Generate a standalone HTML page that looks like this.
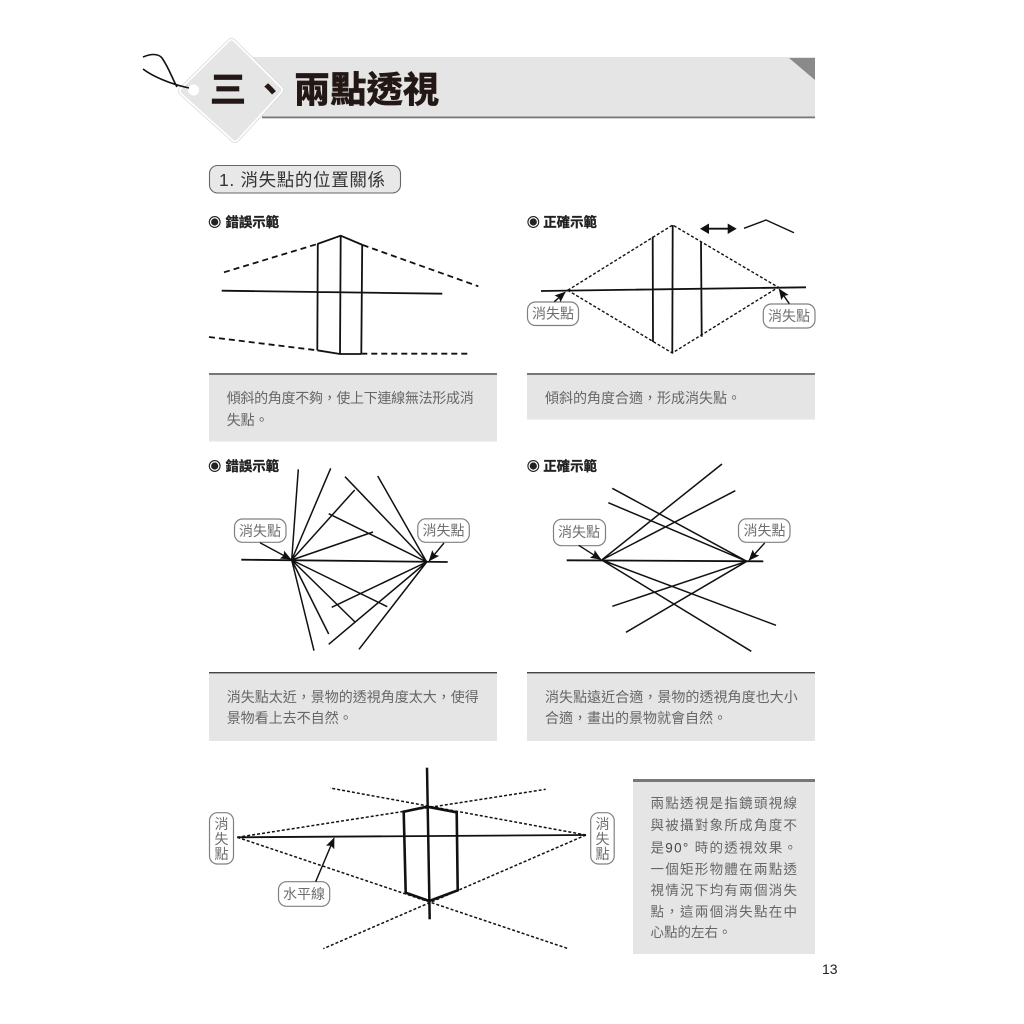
<!DOCTYPE html>
<html lang="zh-Hant">
<head>
<meta charset="utf-8">
<title>三、兩點透視</title>
<style>
html,body{margin:0;padding:0;background:#fff;width:1024px;height:1024px;overflow:hidden}
svg{display:block;filter:blur(.35px)}
text{font-family:"Liberation Sans","Noto Sans CJK TC",sans-serif}
.t{font-size:14px;fill:#666}
.h{font-size:13.4px;font-weight:bold;fill:#222;stroke:#222;stroke-width:.3}
.lb{font-size:14px;fill:#6e6e6e;text-anchor:middle}
.box{fill:#e5e5e5}
.lbl{fill:#fff;stroke:#808080;stroke-width:1.2}
.s{stroke:#111;fill:none;stroke-width:1.8}
.n{stroke:#111;fill:none;stroke-width:1.5}
.d{stroke:#111;fill:none;stroke-width:1.8;stroke-dasharray:6 4}
.p{stroke:#111;fill:none;stroke-width:1.4;stroke-dasharray:3 2}
.a{stroke:#111;fill:none;stroke-width:1.4;marker-end:url(#ah)}
</style>
</head>
<body>
<svg width="1024" height="1024" viewBox="0 0 1024 1024" xmlns="http://www.w3.org/2000/svg">
<defs>
<marker id="ah" markerWidth="11" markerHeight="9" refX="10" refY="4.5" orient="auto" markerUnits="userSpaceOnUse">
<path d="M0 0L11 4.5L0 9L2 4.5Z" fill="#111"/>
</marker>
</defs>

<!-- header banner -->
<rect x="240" y="57" width="575" height="60" fill="#e5e5e5"/>
<rect x="262" y="116.5" width="553" height="1.8" fill="#777"/>
<polygon points="789,58 815,58 815,80" fill="#8a8a8a"/>
<polygon points="231.5,43 279,90 235,138 183,91" fill="#ddd" stroke="#d5d5d5" stroke-width="10" stroke-linejoin="round"/>
<polygon points="231.5,43 279,90 235,138 183,91" fill="#fff" stroke="#fff" stroke-width="8.6" stroke-linejoin="round"/>
<polygon points="231.5,43 279,90 235,138 183,91" fill="#e5e5e5" stroke="#e5e5e5" stroke-width="5" stroke-linejoin="round"/>
<circle cx="193.5" cy="90" r="5.5" fill="#fff"/>
<path d="M143 57C150 54 158 53 162 58C169 68 172 78 177 87M143 69C152 76 170 84 189 88" fill="none" stroke="#111" stroke-width="1.6"/>
<text x="210" y="102" font-size="36" font-weight="bold" fill="#231815" stroke="#231815" stroke-width=".8">三</text>
<text x="252" y="102" font-size="36" font-weight="bold" fill="#231815">、</text>
<text x="294" y="102" font-size="36" font-weight="bold" fill="#231815" stroke="#231815" stroke-width=".8" textLength="145" lengthAdjust="spacing">兩點透視</text>

<!-- section pill -->
<rect x="209.5" y="165.5" width="191" height="27.5" rx="8" fill="#e8e8e8" stroke="#666" stroke-width="1.1"/>
<text x="219" y="186" font-size="17.5" fill="#333" textLength="166" lengthAdjust="spacing">1. 消失點的位置關係</text>

<!-- section headings -->
<g>
<circle cx="214.7" cy="222" r="5.4" fill="none" stroke="#222" stroke-width="1.1"/><circle cx="214.7" cy="222" r="3.6" fill="#222"/>
<text class="h" x="225.5" y="227">錯誤示範</text>
<circle cx="533.3" cy="222" r="5.4" fill="none" stroke="#222" stroke-width="1.1"/><circle cx="533.3" cy="222" r="3.6" fill="#222"/>
<text class="h" x="543.3" y="227">正確示範</text>
<circle cx="214.7" cy="466" r="5.4" fill="none" stroke="#222" stroke-width="1.1"/><circle cx="214.7" cy="466" r="3.6" fill="#222"/>
<text class="h" x="225.5" y="471">錯誤示範</text>
<circle cx="533.3" cy="466" r="5.4" fill="none" stroke="#222" stroke-width="1.1"/><circle cx="533.3" cy="466" r="3.6" fill="#222"/>
<text class="h" x="543.3" y="471">正確示範</text>
</g>

<!-- diagram 1 -->
<g>
<path class="s" d="M317.3 244L340.7 235.7L362.7 245M317.3 350.3L340 354L361.3 354M317.8 244L317.3 350.3M340.7 235.7L340 354M362.2 245L361.3 354M221.7 290.7L442.3 293.7"/>
<path class="d" d="M224 272.3L317.3 244M362.7 245L478.3 286.3M209 337L317.3 350.3M361.3 353.7L470.7 353.7"/>
</g>
<rect class="box" x="209" y="374" width="288" height="67.5"/>
<rect x="209" y="373" width="288" height="2" fill="#777"/>
<text class="t" x="226.7" y="403" textLength="247" lengthAdjust="spacing">傾斜的角度不夠，使上下連線無法形成消</text>
<text class="t" x="226.7" y="425">失點。</text>

<!-- diagram 2 -->
<g>
<path class="p" d="M567.7 290.3L672.7 225L778.3 287.3L672.3 353Z"/>
<path class="s" d="M541 291L806 287.3M672.7 225L672.3 353M652.7 236.7L653 342M701 242.3L701.7 336.7"/>
<path d="M700 228.7L709 223.5V234ZM736.7 228.7L727.7 223.5V234Z" fill="#111"/>
<path d="M705 228.7H732" stroke="#111" stroke-width="1.8"/>
<path d="M744 228.3L766 220L794 232.7" fill="none" stroke="#111" stroke-width="1.4"/>
<rect class="lbl" x="527.5" y="302" width="51" height="23.5" rx="8"/>
<text class="lb" x="553" y="318.5">消失點</text>
<rect class="lbl" x="763.3" y="304" width="51.7" height="24" rx="8"/>
<text class="lb" x="789" y="321">消失點</text>
<path class="a" d="M554.3 301.7L565 292.3"/>
<path class="a" d="M789.3 303.7L779.3 289.3"/>
</g>
<rect class="box" x="527" y="374" width="288" height="45.5"/>
<rect x="527" y="373" width="288" height="2" fill="#777"/>
<text class="t" x="545" y="403">傾斜的角度合適，形成消失點。</text>

<!-- diagram 3 -->
<g>
<path class="n" d="M291.7 560L298.3 469.3M291.7 560L330.7 468.3M291.7 560L354.7 490M291.7 560L373 532M291.7 560L314 650.7M291.7 560L328.7 634M291.7 560L355 622M291.7 560L387.3 606.7M426.7 562L377.7 476M426.7 562L345 476.7M426.7 562L328.7 513.7M426.7 562L331.7 607.3M426.7 562L328.7 644.3M426.7 562L359 649.3"/>
<path class="s" d="M241.3 559.7L447.7 562"/>
<rect class="lbl" x="234.5" y="519" width="51.5" height="23.3" rx="8"/>
<text class="lb" x="260" y="536">消失點</text>
<rect class="lbl" x="417.8" y="518.8" width="51.5" height="23.5" rx="8"/>
<text class="lb" x="443.5" y="535.5">消失點</text>
<path class="a" d="M260 542.7L290.7 559.3"/>
<path class="a" d="M444 543L429.3 560.7"/>
</g>
<rect class="box" x="209" y="673" width="288" height="68"/>
<rect x="209" y="672" width="288" height="1.4" fill="#444"/>
<text class="t" x="226.7" y="702" textLength="252" lengthAdjust="spacing">消失點太近，景物的透視角度太大，使得</text>
<text class="t" x="226.7" y="723">景物看上去不自然。</text>

<!-- diagram 4 -->
<g>
<path class="n" d="M601.7 560L722 464M601.7 560L735.3 490.7M601.7 560L776 625.3M601.7 560L751.3 651.3M746.7 561.3L612.3 488.3M746.7 561.3L608.3 502.7M746.7 561.3L612.3 606.3M746.7 561.3L626 632.3"/>
<path class="s" d="M566.7 560.3L763.3 561.3"/>
<rect class="lbl" x="553.5" y="519.3" width="52" height="26.4" rx="8"/>
<text class="lb" x="579" y="537">消失點</text>
<rect class="lbl" x="738.5" y="518.8" width="51.5" height="23.5" rx="8"/>
<text class="lb" x="764.5" y="535.5">消失點</text>
<path class="a" d="M578.7 545.3L600.7 559.3"/>
<path class="a" d="M764.7 543L749.3 560"/>
</g>
<rect class="box" x="527" y="673" width="288" height="68"/>
<rect x="527" y="672" width="288" height="1.4" fill="#444"/>
<text class="t" x="545" y="702" textLength="252.7" lengthAdjust="spacing">消失點遠近合適，景物的透視角度也大小</text>
<text class="t" x="545" y="723">合適，畫出的景物就會自然。</text>

<!-- diagram 5 -->
<g>
<path class="p" style="stroke-width:1.5" d="M237.3 837.3L545.7 789.3M586 835L330 788M237.3 837.3L568.3 948.7M586 835L323.3 948.7"/>
<path class="s" d="M237.3 837.3L586 835"/>
<path d="M427 767.7L429.7 919.3" stroke="#111" stroke-width="2.5" fill="none"/>
<polygon points="427,806.7 456.7,812.3 457.7,890.3 429.3,901 405.7,892.7 403.7,811.7" fill="none" stroke="#111" stroke-width="2.6"/>
<rect class="lbl" x="209.5" y="812.7" width="24" height="51.3" rx="8"/>
<text class="lb" x="221.5" y="829">消</text><text class="lb" x="221.5" y="844">失</text><text class="lb" x="221.5" y="859">點</text>
<rect class="lbl" x="590.7" y="812.7" width="23.5" height="51.3" rx="8"/>
<text class="lb" x="602.5" y="829">消</text><text class="lb" x="602.5" y="844">失</text><text class="lb" x="602.5" y="859">點</text>
<rect class="lbl" x="278.5" y="881.7" width="51.2" height="24.6" rx="8"/>
<text class="lb" x="304" y="899">水平線</text>
<path class="a" d="M315.7 881.7L334 838.3"/>
</g>

<!-- explanation -->
<rect class="box" x="633" y="780" width="182" height="174"/>
<rect x="633" y="779" width="182" height="3" fill="#777"/>
<g>
<text class="t" style="font-size:13.5px" x="650.5" y="808" textLength="146.5" lengthAdjust="spacing">兩點透視是指鏡頭視線</text>
<text class="t" style="font-size:13.5px" x="650.5" y="830" textLength="146.5" lengthAdjust="spacing">與被攝對象所成角度不</text>
<text class="t" style="font-size:13.5px" x="650.5" y="852.5" textLength="146.5" lengthAdjust="spacing">是<tspan fill="#444">90°</tspan> 時的透視效果。</text>
<text class="t" style="font-size:13.5px" x="650.5" y="874" textLength="146.5" lengthAdjust="spacing">一個矩形物體在兩點透</text>
<text class="t" style="font-size:13.5px" x="650.5" y="895" textLength="146.5" lengthAdjust="spacing">視情況下均有兩個消失</text>
<text class="t" style="font-size:13.5px" x="650.5" y="916.5" textLength="146.5" lengthAdjust="spacing">點，這兩個消失點在中</text>
<text class="t" style="font-size:13.5px" x="650.5" y="937">心點的左右。</text>
</g>

<text x="822" y="974" font-size="14" fill="#222">13</text>
</svg>
</body>
</html>
